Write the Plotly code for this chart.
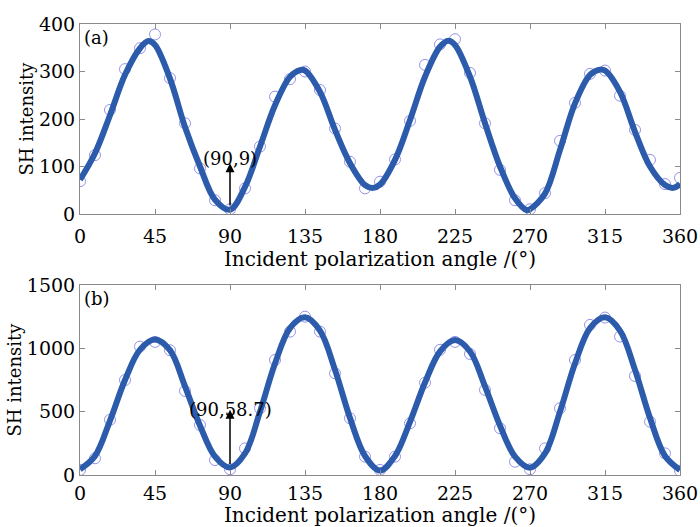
import plotly.graph_objects as go
from plotly.subplots import make_subplots

# ---- data ----
angles = [0, 9, 18, 27, 36, 45, 54, 63, 72, 81, 90, 99, 108, 117, 126, 135, 144, 153, 162, 171,
          180, 189, 198, 207, 216, 225, 234, 243, 252, 261, 270, 279, 288, 297, 306, 315, 324,
          333, 342, 351, 360]

meas_a = [69, 124, 219, 305, 349, 378, 286, 191, 96, 29, 10, 54, 142, 247, 284, 300, 261, 180,
          110, 54, 68, 115, 196, 314, 357, 368, 297, 191, 93, 29, 10, 44, 154, 234, 295, 302,
          249, 177, 114, 63, 76]

meas_b = [40, 132, 435, 750, 1014, 1051, 985, 664, 395, 118, 45, 210, 527, 908, 1132, 1250,
          1132, 803, 448, 145, 40, 145, 408, 729, 988, 1051, 956, 672, 369, 105, 45, 210, 527,
          908, 1185, 1243, 1093, 782, 421, 171, 34]

fit_ang_a = [0, 9, 18, 27, 36, 41, 45, 54, 63, 72, 81, 90, 99, 108, 117, 126, 132, 135, 144,
             153, 162, 171, 176, 180, 189, 198, 207, 216, 221, 225, 234, 243, 252, 261, 268,
             270, 279, 288, 297, 306, 312, 315, 324, 333, 342, 351, 356, 360]
fit_a = [72, 128, 208, 293, 349, 364, 356, 285, 183, 100, 30, 9, 57, 142, 229, 289, 303, 302,
         257, 177, 107, 61, 55, 62, 114, 198, 289, 352, 365, 356, 289, 191, 100, 33, 8,
         10, 43, 135, 233, 293, 304, 302, 257, 173, 100, 61, 55, 63]

fit_ang_b = angles
fit_b = [45, 150, 430, 750, 990, 1070, 985, 700, 390, 145, 59, 170, 500, 880, 1160, 1245, 1140,
         830, 450, 150, 35, 150, 420, 730, 975, 1065, 975, 700, 390, 145, 58, 170, 500, 880,
         1160, 1245, 1140, 830, 450, 150, 40]

x_ticks = [0, 45, 90, 135, 180, 225, 270, 315, 360]
y_ticks_a = [0, 100, 200, 300, 400]
y_ticks_b = [0, 500, 1000, 1500]

FONT = "DejaVu Serif"
LINE_C = "#2B5BAA"
MARK_C = "#9494EA"

W, H = 700, 527

fig = make_subplots(rows=2, cols=1)

for row, (meas, fa, fy) in enumerate([(meas_a, fit_ang_a, fit_a), (meas_b, fit_ang_b, fit_b)], start=1):
    fig.add_trace(go.Scatter(x=angles, y=meas, mode="markers",
                             marker=dict(symbol="circle-open", size=11, color=MARK_C,
                                         line=dict(width=1, color=MARK_C)),
                             showlegend=False), row=row, col=1)
    fig.add_trace(go.Scatter(x=fa, y=fy, mode="lines",
                             line=dict(color=LINE_C, width=6, shape="spline", smoothing=1.0),
                             showlegend=False), row=row, col=1)

axis_common = dict(showline=True, linecolor="#8a8a8a", linewidth=1, mirror="allticks",
                   ticks="inside", ticklen=5, tickcolor="#8a8a8a", showgrid=False, zeroline=False,
                   automargin=False,
                   tickfont=dict(family=FONT, size=19, color="black"))

xt = dict(text="Incident polarization angle /(°)", font=dict(family=FONT, size=20, color="black"), standoff=0)
yt = dict(text="SH intensity", font=dict(family=FONT, size=18, color="black"), standoff=0)

xdom = [80 / W, 680 / W]
ydom_a = [(H - 214) / H, (H - 24) / H]
ydom_b = [(H - 475) / H, (H - 285) / H]

fig.update_layout(
    width=W, height=H,
    margin=dict(l=0, r=0, t=0, b=0),
    plot_bgcolor="white", paper_bgcolor="white",
    hovermode=False,
    xaxis=dict(domain=xdom, range=[0, 360], tickvals=x_ticks, title=xt, ticklabelstandoff=5, **axis_common),
    yaxis=dict(domain=ydom_a, range=[0, 400], tickvals=y_ticks_a, title=yt, **axis_common),
    xaxis2=dict(domain=xdom, range=[0, 360], tickvals=x_ticks, title=xt, ticklabelstandoff=1, **axis_common),
    yaxis2=dict(domain=ydom_b, range=[0, 1500], tickvals=y_ticks_b, title=yt, **axis_common),
)

ann_font = dict(family=FONT, size=18, color="black")
# panel labels
fig.add_annotation(x=0, y=1, xref="x domain", yref="y domain", text="(a)", showarrow=False,
                   xanchor="left", yanchor="top", xshift=2, yshift=-1, font=ann_font)
fig.add_annotation(x=0, y=1, xref="x2 domain", yref="y2 domain", text="(b)", showarrow=False,
                   xanchor="left", yanchor="top", xshift=2, yshift=-1, font=ann_font)
# arrows
fig.add_annotation(x=90, y=107, xref="x", yref="y", ax=90, ay=15, axref="x", ayref="y",
                   text="", showarrow=True, arrowhead=2, arrowsize=1.2, arrowwidth=1.5, arrowcolor="black")
fig.add_annotation(x=90, y=107, xref="x", yref="y", text="(90,9)", showarrow=False,
                   yanchor="bottom", yshift=-8, font=ann_font)
fig.add_annotation(x=90, y=515, xref="x2", yref="y2", ax=90, ay=75, axref="x2", ayref="y2",
                   text="", showarrow=True, arrowhead=2, arrowsize=1.2, arrowwidth=1.5, arrowcolor="black")
fig.add_annotation(x=90, y=515, xref="x2", yref="y2", text="(90,58.7)", showarrow=False,
                   yanchor="bottom", yshift=-12, font=ann_font)

fig.write_html("out.html",
               config={"displayModeBar": False},
               post_script="document.body.style.margin='0';document.body.style.overflow='hidden';")
